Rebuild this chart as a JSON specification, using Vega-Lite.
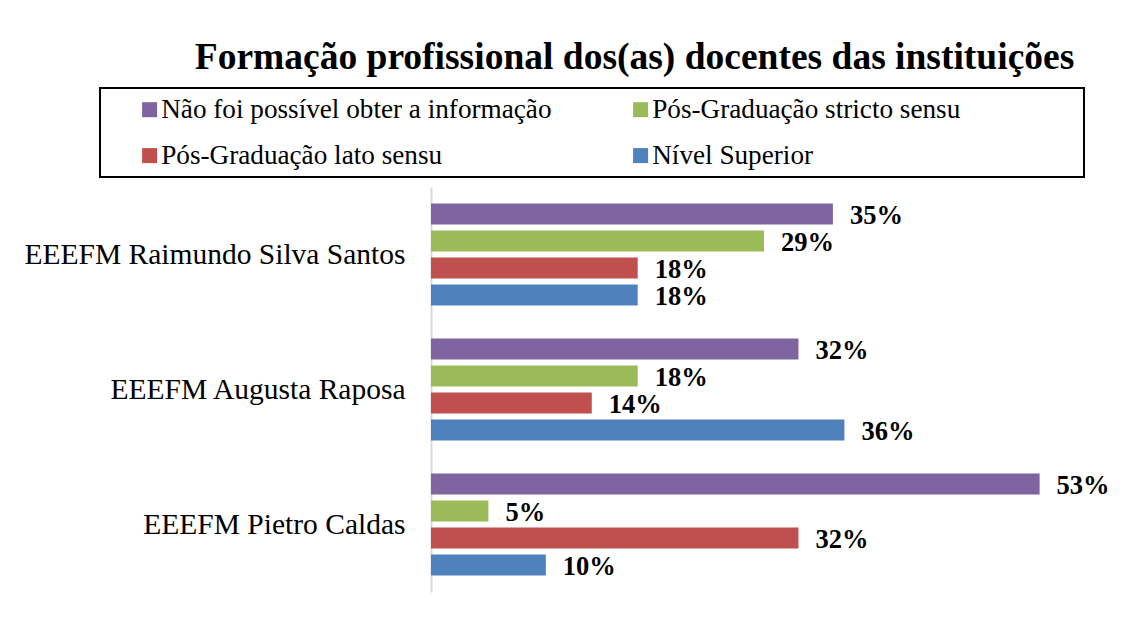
{
  "$schema": "https://vega.github.io/schema/vega-lite/v6.json",
  "width": 689,
  "height": 405,
  "autosize": {"type": "none"},
  "padding": {"left": 431, "top": 187, "right": 17, "bottom": 25},
  "background": "white",
  "title": {
    "text": "Formação profissional dos(as) docentes das instituições",
    "font": "Liberation Serif",
    "fontSize": 37.5,
    "fontWeight": "bold",
    "color": "black",
    "anchor": "middle",
    "frame": "group",
    "dx": -141,
    "dy": -1,
    "offset": 10
  },
  "data": {
    "values": [
      {"escola": "EEEFM Raimundo Silva Santos", "formacao": "Não foi possível  obter a informação", "valor": 0.35},
      {"escola": "EEEFM Raimundo Silva Santos", "formacao": "Pós-Graduação stricto sensu", "valor": 0.29},
      {"escola": "EEEFM Raimundo Silva Santos", "formacao": "Pós-Graduação lato sensu", "valor": 0.18},
      {"escola": "EEEFM Raimundo Silva Santos", "formacao": "Nível Superior", "valor": 0.18},
      {"escola": "EEEFM Augusta Raposa", "formacao": "Não foi possível  obter a informação", "valor": 0.32},
      {"escola": "EEEFM Augusta Raposa", "formacao": "Pós-Graduação stricto sensu", "valor": 0.18},
      {"escola": "EEEFM Augusta Raposa", "formacao": "Pós-Graduação lato sensu", "valor": 0.14},
      {"escola": "EEEFM Augusta Raposa", "formacao": "Nível Superior", "valor": 0.36},
      {"escola": "EEEFM Pietro Caldas", "formacao": "Não foi possível  obter a informação", "valor": 0.53},
      {"escola": "EEEFM Pietro Caldas", "formacao": "Pós-Graduação stricto sensu", "valor": 0.05},
      {"escola": "EEEFM Pietro Caldas", "formacao": "Pós-Graduação lato sensu", "valor": 0.32},
      {"escola": "EEEFM Pietro Caldas", "formacao": "Nível Superior", "valor": 0.10}
    ]
  },
  "encoding": {
    "y": {
      "field": "escola",
      "type": "nominal",
      "sort": ["EEEFM Raimundo Silva Santos", "EEEFM Augusta Raposa", "EEEFM Pietro Caldas"],
      "scale": {"paddingInner": 0.2444, "paddingOuter": 0.1222},
      "title": null,
      "axis": {
        "domainColor": "#d9d9d9",
        "domainWidth": 2,
        "ticks": false,
        "labelFont": "Liberation Serif",
        "labelFontSize": 29.5,
        "labelColor": "black",
        "labelPadding": 26,
        "labelLimit": 600
      }
    },
    "yOffset": {
      "field": "formacao",
      "type": "nominal",
      "sort": ["Não foi possível  obter a informação", "Pós-Graduação stricto sensu", "Pós-Graduação lato sensu", "Nível Superior"],
      "scale": {"paddingInner": 0.2222, "paddingOuter": 0}
    },
    "x": {
      "field": "valor",
      "type": "quantitative",
      "scale": {"domain": [0, 0.6]},
      "axis": null
    }
  },
  "layer": [
    {
      "mark": {"type": "bar"},
      "encoding": {
        "color": {
          "field": "formacao",
          "type": "nominal",
          "scale": {
            "domain": ["Não foi possível  obter a informação", "Pós-Graduação lato sensu", "Pós-Graduação stricto sensu", "Nível Superior"],
            "range": ["#8064a2", "#c0504d", "#9bbb59", "#4f81bd"]
          },
          "legend": {
            "title": " ",
            "titleOrient": "right",
            "titlePadding": 116,
            "titleFontSize": 10,
            "orient": "none",
            "legendX": -331,
            "legendY": -99,
            "columns": 2,
            "columnPadding": 40,
            "rowPadding": 18,
            "padding": 8,
            "symbolType": "square",
            "symbolSize": 225,
            "symbolStrokeWidth": 0,
            "symbolOffset": 28,
            "labelOffset": -2,
            "labelFont": "Liberation Serif",
            "labelFontSize": 27.2,
            "labelColor": "black",
            "labelLimit": 600,
            "strokeColor": "black",
            "encode": {"legend": {"update": {"strokeWidth": {"value": 2}}}}
          }
        }
      }
    },
    {
      "mark": {
        "type": "text",
        "align": "left",
        "baseline": "middle",
        "dx": 17,
        "dy": 2,
        "font": "Liberation Serif",
        "fontSize": 26.5,
        "fontWeight": "bold",
        "color": "black"
      },
      "encoding": {
        "text": {"field": "valor", "type": "quantitative", "format": ".0%"}
      }
    }
  ],
  "config": {"view": {"stroke": null}}
}
